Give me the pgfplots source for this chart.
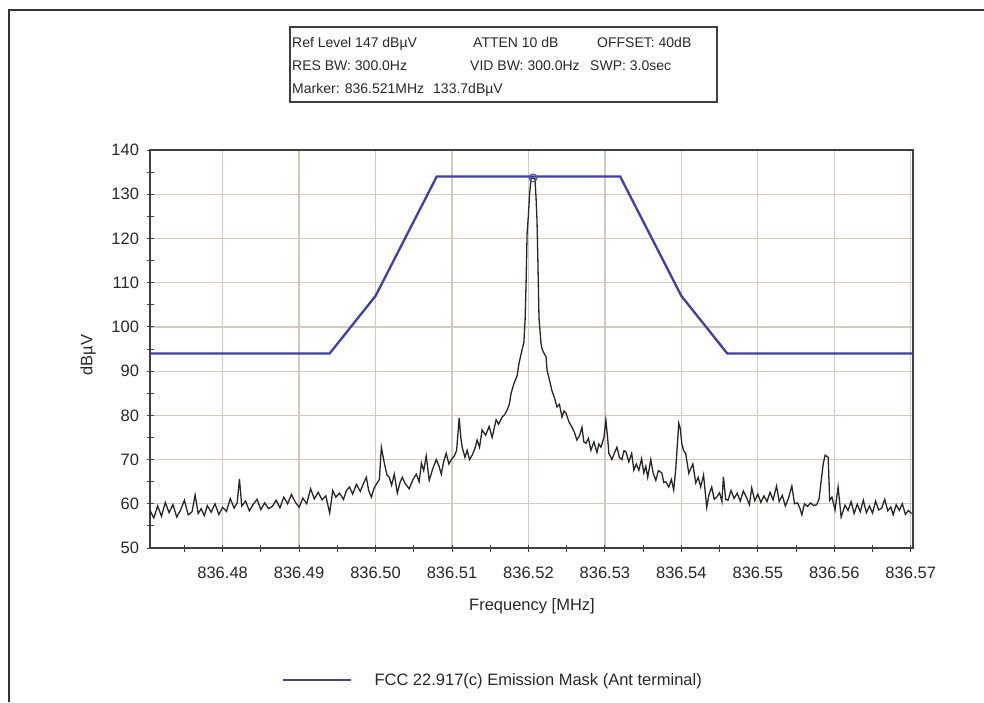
\documentclass[border=0pt]{standalone}
\usepackage{pgfplots}
\usepackage{pgfplotstable}
\pgfplotsset{compat=1.18}
\usepackage{fontspec}
\setmainfont{Liberation Sans}
\definecolor{maskblue}{RGB}{62,62,172}
\definecolor{gridtan}{RGB}{214,200,186}
\definecolor{txt}{RGB}{40,40,40}
\newcommand{\lblfont}{\fontsize{16.5}{19}\selectfont}

% trace: offset from 836.5 MHz in kHz, level in dBuV
\pgfplotstableread{
k db
-29.5 58.5
-29.0 56.8
-28.5 59.5
-28.0 57.2
-27.5 60.3
-27.0 58.0
-26.5 59.8
-26.0 57.0
-25.5 58.6
-25.0 60.8
-24.5 57.5
-24.0 58.2
-23.6 62.0
-23.2 57.8
-22.8 58.9
-22.4 57.3
-22.0 59.6
-21.5 58.1
-21.0 60.0
-20.5 57.6
-20.0 59.2
-19.5 58.3
-19.0 61.2
-18.5 59.0
-18.1 60.2
-17.8 65.6
-17.5 59.5
-17.0 60.6
-16.5 58.4
-16.0 59.9
-15.5 61.0
-15.0 58.7
-14.5 60.2
-14.0 58.9
-13.5 59.4
-13.0 60.8
-12.5 59.1
-12.0 61.5
-11.5 60.0
-11.0 62.1
-10.5 60.4
-10.0 59.2
-9.5 61.3
-9.0 60.0
-8.5 63.4
-8.0 61.1
-7.5 62.6
-7.0 60.9
-6.5 61.8
-6.0 57.9
-5.6 63.0
-5.2 61.5
-4.7 62.4
-4.2 61.0
-3.8 63.0
-3.4 63.8
-3.0 62.2
-2.5 64.4
-2.0 62.8
-1.6 64.5
-1.2 66.0
-0.9 63.0
-0.55 61.5
-0.2 63.5
0.1 64.4
0.5 65.5
0.76 72.8
1.15 69.2
1.5 66.5
1.8 66.0
2.1 64.2
2.45 66.7
2.85 62.4
3.2 64.8
3.5 66.0
3.9 64.5
4.4 63.4
4.9 65.5
5.33 66.7
5.7 65.0
6.0 69.2
6.3 67.5
6.63 70.8
7.02 65.3
7.5 68.0
7.94 70.0
8.3 68.5
8.6 66.7
8.9 69.5
9.24 71.4
9.6 69.0
9.9 70.0
10.29 70.8
10.6 72.0
10.94 79.4
11.15 75.0
11.33 72.8
11.7 70.5
11.98 72.1
12.3 70.0
12.64 71.0
13.0 72.5
13.29 74.4
13.6 72.8
13.94 76.7
14.4 75.5
14.86 77.5
15.25 75.0
15.77 79.0
16.1 78.0
16.55 79.6
16.9 80.2
17.21 81.2
17.5 82.5
17.73 85.0
18.12 87.3
18.51 88.9
18.77 91.8
19.16 94.8
19.4 96.5
19.56 101.5
19.69 110.0
19.82 121.0
20.0 125.5
20.15 130.0
20.35 133.7
20.85 133.5
21.0 129.0
21.12 124.0
21.25 113.5
21.38 102.0
21.64 96.3
21.78 95.0
22.05 94.0
22.3 93.2
22.43 90.2
22.75 88.0
23.08 85.5
23.4 84.0
23.73 81.9
24.05 82.5
24.39 79.6
24.65 81.0
24.91 80.5
25.3 78.5
25.69 77.3
26.0 76.2
26.34 74.4
26.7 75.5
27.0 77.3
27.25 74.0
27.52 73.7
27.85 74.8
28.17 72.1
28.56 74.0
28.96 71.6
29.2 73.5
29.48 72.8
29.87 75.0
30.13 78.9
30.35 75.0
30.52 71.4
30.91 70.0
31.25 71.5
31.57 72.8
31.9 70.5
32.22 70.0
32.5 72.0
32.74 71.8
33.13 69.5
33.5 71.4
33.79 67.6
34.1 69.0
34.44 67.6
34.8 70.2
35.09 67.0
35.35 68.5
35.6 66.0
36.0 70.0
36.3 67.0
36.66 65.3
37.0 67.5
37.44 67.0
37.7 64.8
37.96 65.0
38.35 63.8
38.7 65.5
39.0 63.1
39.27 68.0
39.5 74.0
39.66 78.2
39.86 77.0
40.05 73.7
40.3 72.0
40.57 71.4
40.97 66.9
41.25 68.0
41.5 69.0
41.88 64.7
42.2 66.0
42.53 63.8
42.9 66.5
43.32 59.2
43.6 62.0
43.97 63.8
44.3 61.0
44.62 61.5
45.0 62.5
45.3 60.5
45.5 66.1
45.8 61.0
46.1 60.8
46.5 63.0
46.9 61.2
47.3 62.4
47.7 60.6
48.1 62.9
48.5 61.5
48.9 59.8
49.2 63.6
49.6 60.7
50.0 62.2
50.4 60.3
50.8 61.8
51.2 60.5
51.6 62.6
52.0 60.9
52.45 64.0
52.8 60.5
53.2 61.9
53.6 59.5
54.0 61.2
54.45 64.0
54.8 60.0
55.2 60.2
55.5 59.0
55.76 57.5
56.1 60.0
56.5 59.4
56.9 60.2
57.3 59.6
57.7 59.8
58.0 61.0
58.3 65.3
58.55 69.0
58.8 71.0
59.2 70.5
59.4 60.8
59.7 61.5
60.1 58.6
60.5 63.8
60.9 57.0
61.4 59.7
61.8 58.5
62.2 60.5
62.6 57.8
63.0 59.9
63.4 58.2
63.8 60.8
64.2 58.0
64.6 59.5
65.0 57.9
65.4 60.6
65.8 58.6
66.2 59.0
66.6 61.0
67.0 58.4
67.4 59.3
67.7 57.5
68.1 59.8
68.5 58.5
68.9 60.0
69.3 57.6
69.7 58.5
70.1 57.8
}\trace

% FCC 22.917(c) mask, same x units
\pgfplotstableread{
k db
-29.5 94
-6 94
0 107
8 134
32 134
40 107
46 94
70.3 94
}\mask

\begin{document}
\begin{tikzpicture}[x=1pt,y=1pt]
\path[use as bounding box] (0,0) rectangle (984,-702);
\draw[line width=2pt, black!80] (9,-702) -- (9,-10) -- (984,-10);

% settings box
\draw[line width=1.2pt, black!75] (290,-27) rectangle (717,-102);
\begin{scope}[every node/.style={anchor=base west, inner sep=0pt, font=\fontsize{14}{17}\selectfont, text=txt}]
\node at (292,-47) {Ref Level 147 dBµV};
\node at (473,-47) {ATTEN 10 dB};
\node at (597,-47) {OFFSET: 40dB};
\node at (292,-70) {RES BW: 300.0Hz};
\node at (470,-70) {VID BW: 300.0Hz};
\node at (590,-70) {SWP: 3.0sec};
\node at (292,-93) {Marker: 836.521MHz};
\node at (433,-93) {133.7dBµV};
\end{scope}

\begin{axis}[
  scale only axis, width=763pt, height=398pt,
  at={(150pt,-548pt)}, anchor=south west,
  xmin=-29.5, xmax=70.3, ymin=50, ymax=140,
  xtick={-20,-10,...,70},
  xticklabels={836.48,836.49,836.50,836.51,836.52,836.53,836.54,836.55,836.56,836.57},
  minor xtick={-25,-15,...,65},
  ytick={50,60,...,140},
  minor ytick={55,65,...,135},
  tick pos=left,
  tick align=center,
  major tick length=7pt, minor tick length=7pt,
  tick style={black!75, line width=1pt},
  axis line style={black!75, line width=1.4pt},
  grid=major,
  major grid style={gridtan, line width=1.2pt},
  tick label style={font=\lblfont, text=txt},
  /pgf/number format/assume math mode=true,
  yticklabel style={xshift=-4pt},
  xticklabel style={yshift=-12pt},
  legend style={at={(0.173,-0.332)}, anchor=west, draw=none, fill=none,
    inner sep=0pt, font=\lblfont, text=txt, nodes={inner sep=0pt},
    /tikz/every odd column/.append style={column sep=22pt}},
  legend image code/.code={\draw[#1] (0pt,0pt) -- (68pt,0pt);},
]
\addplot[black!85, line width=1.3pt, forget plot] table[x=k, y=db] {\trace};
\addplot[maskblue, line width=2.3pt] table[x=k, y=db] {\mask};
\addlegendentry{FCC 22.917(c) Emission Mask (Ant terminal)}
\addplot[only marks, mark=o, mark size=4pt, maskblue!70!gray, line width=1pt, forget plot]
  coordinates {(20.6,133.7)};
\end{axis}

\node[font=\lblfont, text=txt] at (532,-606) {Frequency [MHz]};
\node[font=\lblfont, text=txt, rotate=90] at (88,-355) {dBµV};
\end{tikzpicture}
\end{document}
